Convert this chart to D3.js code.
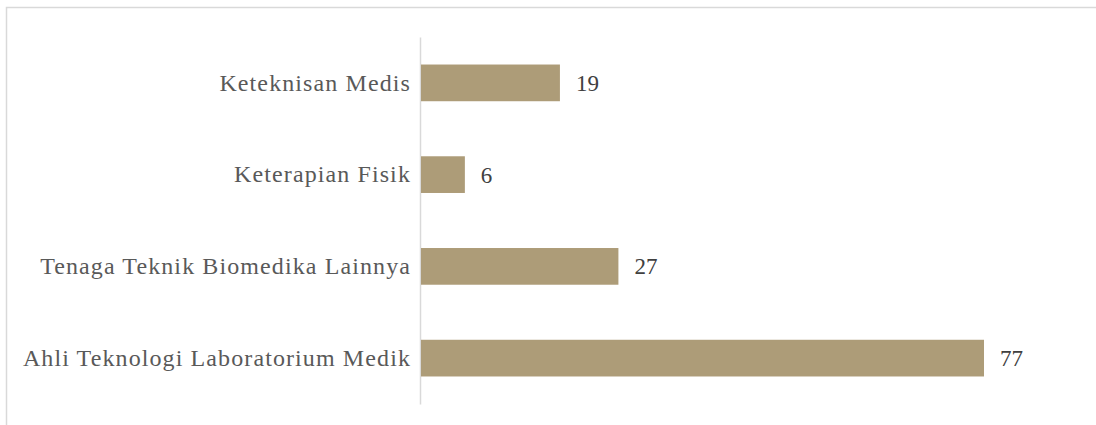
<!DOCTYPE html>
<html>
<head>
<meta charset="utf-8">
<script src="https://cdn.jsdelivr.net/npm/d3@7"></script>
<style>
  body { margin: 0; background: #fff; }
  svg { display: block; }
</style>
</head>
<body>
<div id="container"></div>
<script>
var graphWidth = 1096;
var graphHeight = 425;

// data, top to bottom
var categories = ["Keteknisan Medis", "Keterapian Fisik", "Tenaga Teknik Biomedika Lainnya", "Ahli Teknologi Laboratorium Medik"];
var values = [19, 6, 27, 77];

var margin = {left: 420, top: 37, bottom: 21};
var fontFamily = "'Liberation Serif', 'Times New Roman', serif";

const SVG = d3.select("#container")
              .append("svg")
              .attr("width", graphWidth)
              .attr("height", graphHeight);

// outer chart border (runs off right/bottom edge)
SVG.append("rect")
   .attr("x", 6.5)
   .attr("y", 7.5)
   .attr("width", graphWidth)
   .attr("height", graphHeight)
   .attr("fill", "none")
   .attr("stroke", "#d9d9d9")
   .attr("stroke-width", 1.5);

const x = d3.scaleLinear()
            .domain([0, 77])
            .range([margin.left + 1, 984]);

const y = d3.scaleBand()
            .domain(categories)
            .range([margin.top, graphHeight - margin.bottom])
            .paddingInner(0.6)
            .paddingOuter(0.3);

const yAxis = d3.axisLeft(y).tickSize(0).tickPadding(9);

const axisG = SVG.append("g")
                 .attr("transform", `translate(${margin.left},0)`)
                 .call(yAxis);

axisG.select(".domain")
     .attr("stroke", "#d9d9d9")
     .attr("stroke-width", 1.5);

axisG.selectAll("text")
     .style("font-family", fontFamily)
     .style("letter-spacing", "1.1px")
     .attr("font-size", "24px")
     .attr("fill", "#595959");

SVG.selectAll(".bar")
   .data(values)
   .enter()
   .append("rect")
   .attr("class", "bar")
   .attr("x", x(0))
   .attr("y", (d, i) => y(categories[i]))
   .attr("width", (d) => x(d) - x(0))
   .attr("height", y.bandwidth())
   .attr("fill", "#ad9c78");

SVG.selectAll(".val")
   .data(values)
   .enter()
   .append("text")
   .attr("class", "val")
   .attr("x", (d) => x(d) + 16)
   .attr("y", (d, i) => y(categories[i]) + y.bandwidth() / 2)
   .attr("dy", "0.35em")
   .text((d) => d)
   .style("font-family", fontFamily)
   .attr("font-size", "23px")
   .attr("fill", "#404040");
</script>
</body>
</html>
